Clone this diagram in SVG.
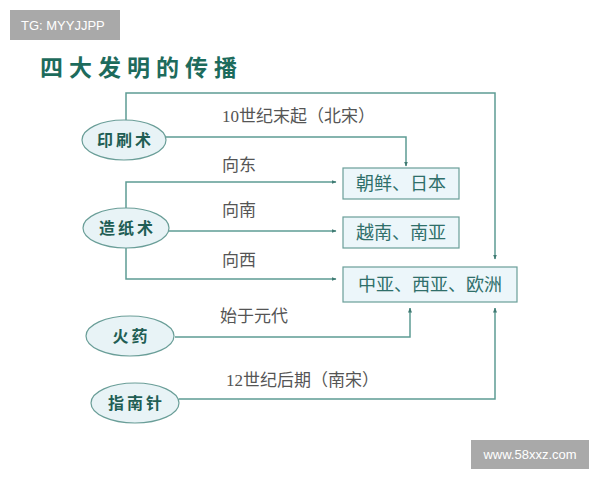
<svg xmlns="http://www.w3.org/2000/svg" width="600" height="480" viewBox="0 0 600 480">
<defs>
<style>
.ln{fill:none;stroke:#5e9c94;stroke-width:1.5}
.el{fill:#e8f3f6;stroke:#6a9e98;stroke-width:1.2}
.bx{fill:#ecf6fa;stroke:#6a9e98;stroke-width:1.2}
.nt{font-family:"Noto Sans CJK SC",sans-serif;font-size:16px;font-weight:bold;fill:#1f5e54;text-anchor:middle;letter-spacing:3px}
.bt{font-family:"Noto Sans CJK SC",sans-serif;font-size:18px;fill:#2f6f6a;text-anchor:middle}
.lb{font-family:"Liberation Serif","Noto Sans CJK SC",serif;font-size:17px;fill:#555}
.wm{font-family:"Liberation Sans",sans-serif;fill:#fff}
</style>
<marker id="ah" viewBox="0 0 10 10" refX="9" refY="5" markerWidth="5" markerHeight="5" orient="auto" markerUnits="userSpaceOnUse"><path d="M0,1 L10,5 L0,9 z" fill="#3f7a72"/></marker>
</defs>
<rect width="600" height="480" fill="#fff"/>
<g id="wm1"><rect x="10" y="10" width="110" height="30" fill="#a9a9a9"/><text class="wm" x="21" y="30" font-size="13">TG: MYYJJPP</text></g>
<text x="40" y="76" font-family="Noto Sans CJK SC,sans-serif" font-size="23" font-weight="bold" fill="#1d6b5c" letter-spacing="6">四大发明的传播</text>
<g id="connectors">
<polyline class="ln" points="126,120 126,93 495,93 495,259" marker-end="url(#ah)"/>
<polyline class="ln" points="166,137 406,137 406,166" marker-end="url(#ah)"/>
<polyline class="ln" points="126,208 126,182 336,182" marker-end="url(#ah)"/>
<polyline class="ln" points="168,231 336,231" marker-end="url(#ah)"/>
<polyline class="ln" points="126,248 126,279 336,279" marker-end="url(#ah)"/>
<polyline class="ln" points="175,337 410,337 410,308" marker-end="url(#ah)"/>
<polyline class="ln" points="179,399 495,399 495,308" marker-end="url(#ah)"/>
</g>
<g id="labels">
<text class="lb" x="222" y="122">10世纪末起（北宋）</text>
<text class="lb" x="222" y="171">向东</text>
<text class="lb" x="222" y="216">向南</text>
<text class="lb" x="222" y="266">向西</text>
<text class="lb" x="220" y="322">始于元代</text>
<text class="lb" x="226" y="386">12世纪后期（南宋）</text>
</g>
<g id="n-yinshua"><ellipse class="el" cx="124" cy="140" rx="42" ry="20"/><text class="nt" x="125.5" y="145.5">印刷术</text></g>
<g id="n-zaozhi"><ellipse class="el" cx="126" cy="228" rx="43" ry="20"/><text class="nt" x="127.5" y="233.5">造纸术</text></g>
<g id="n-huoyao"><ellipse class="el" cx="130" cy="336" rx="44" ry="20"/><text class="nt" x="131.5" y="341.5">火药</text></g>
<g id="n-zhinan"><ellipse class="el" cx="135" cy="403" rx="44" ry="20"/><text class="nt" x="136.5" y="408.5">指南针</text></g>
<g id="b-chaoxian"><rect class="bx" x="343" y="168" width="116" height="31"/><text class="bt" x="401" y="190">朝鲜、日本</text></g>
<g id="b-yuenan"><rect class="bx" x="343" y="217" width="116" height="31"/><text class="bt" x="401" y="239">越南、南亚</text></g>
<g id="b-zhongya"><rect class="bx" x="343" y="267" width="174" height="35"/><text class="bt" x="430" y="291">中亚、西亚、欧洲</text></g>
<g id="wm2"><rect x="471" y="440" width="118" height="29" fill="#a9a9a9"/><text class="wm" x="530" y="459" font-size="13" text-anchor="middle">www.58xxz.com</text></g>
</svg>
